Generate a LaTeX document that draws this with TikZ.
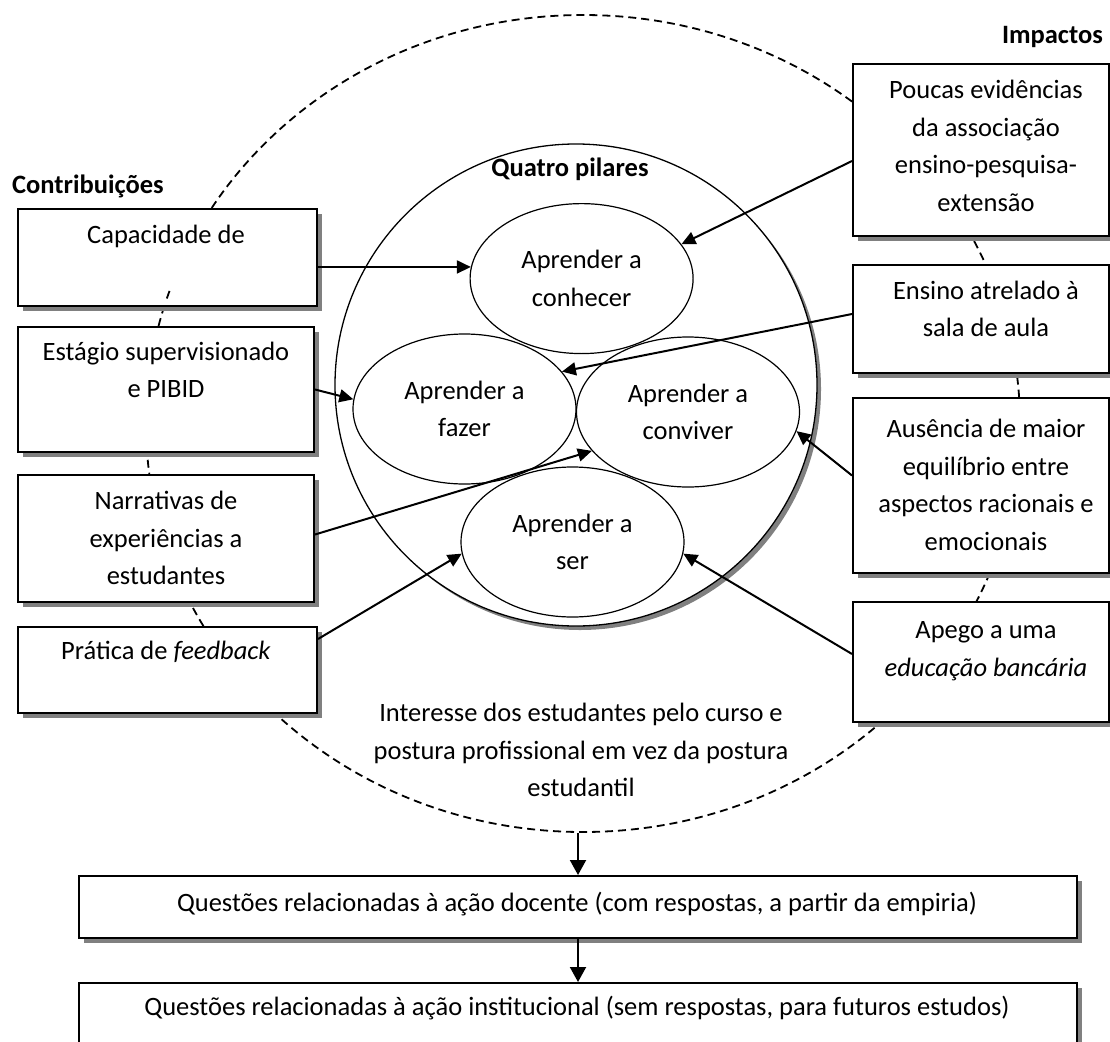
\documentclass[tikz,border=0pt]{standalone}
\usepackage{fontspec}
\setmainfont{Carlito}
\usetikzlibrary{arrows.meta,shapes.geometric,shadows}

\begin{document}
\begin{tikzpicture}[x=1pt,y=-1pt,
  every node/.style={font=\fontsize{26.5}{37.5}\selectfont, inner sep=0pt},
  hd/.style={font=\fontsize{26.5}{37.5}\selectfont\bfseries},
  shade/.style={drop shadow={shadow xshift=5pt, shadow yshift=-5pt, fill=black!50, opacity=1}},
  box/.style={draw, line width=2pt, fill=white, anchor=north west, shade},
  txt/.style={align=center},
  pillar/.style={ellipse, draw, line width=1.2pt, minimum width=223pt, minimum height=150pt, align=center},
  outerdash/.style={line width=1.8pt, dash pattern=on 8pt off 5pt},
  arr/.style={line width=2pt, -{Triangle[length=14pt,width=13pt]}},
  arrdown/.style={line width=2pt, -{Triangle[length=15pt,width=16pt]}},
]
\useasboundingbox (0,0) rectangle (1110,1041);
\clip (0,0) rectangle (1110,1041);

% dashed outer frame enclosing the whole scheme
\node[ellipse, draw, outerdash, minimum width=874pt, minimum height=817pt] (outer) at (583,423.5) {};

% left column: contributions
\node[hd, anchor=base west] (contrib) at (12,193) {Contribuições};
\node[box, minimum width=299pt, minimum height=97pt]  (capB) at (17,208) {};
\node[box, minimum width=296pt, minimum height=125pt] (estB) at (17,326) {};
\node[box, minimum width=296pt, minimum height=127pt] (narB) at (17,474) {};
\node[box, minimum width=299pt, minimum height=86pt]  (praB) at (17,626) {};
\node[txt] (capT) at (166,236) {Capacidade de};
\node[txt] (estT) at (166,370) {Estágio supervisionado\\e PIBID};
\node[txt] (narT) at (166,538) {Narrativas de\\experiências a\\estudantes};
\node[txt] (praT) at (166,652) {Prática de \emph{feedback}};

% dashed outline seen through the first box
\begin{scope}
  \clip (150,287) rectangle (182,298);
  \draw[outerdash] (583,423.5) ellipse [x radius=437, y radius=408.5];
\end{scope}

% right column: impacts
\node[hd, anchor=base east] (impact) at (1103,44) {Impactos};
\node[box, minimum width=256pt, minimum height=172pt] (pouB) at (852,63) {};
\node[box, minimum width=256pt, minimum height=108pt] (ensB) at (852,264) {};
\node[box, minimum width=256pt, minimum height=175pt] (ausB) at (852,397) {};
\node[box, minimum width=256pt, minimum height=120pt] (apeB) at (852,601) {};
\node[txt] (pouT) at (986,146) {Poucas evidências\\da associação\\ensino-pesquisa-\\extensão};
\node[txt] (ensT) at (986,309) {Ensino atrelado à\\sala de aula};
\node[txt] (ausT) at (986,485) {Ausência de maior\\equilíbrio entre\\aspectos racionais e\\emocionais};
\node[txt] (apeT) at (986,651) {Apego a uma\\\emph{educação bancária}};

% central circle with the four pillars
\node[circle, draw, line width=1.3pt, fill=white, minimum size=482pt,
      drop shadow={shadow xshift=4pt, shadow yshift=-4pt, fill=black!50, opacity=1}] (pil) at (576,385) {};
\node[hd, anchor=base] (pilT) at (570,176) {Quatro pilares};
\node[pillar] (conhecer) at (581.6,278.6) {Aprender a\\conhecer};
\node[pillar] (fazer)    at (464.5,409)   {Aprender a\\fazer};
\node[pillar] (conviver) at (688,412)     {Aprender a\\conviver};
\node[pillar] (ser)      at (572.5,542)   {Aprender a\\ser};

% text inside the dashed frame
\node[txt] (interesse) at (581,750) {Interesse dos estudantes pelo curso e\\postura profissional em vez da postura\\estudantil};

% bottom boxes
\node[box, minimum width=998pt, minimum height=62pt] (docB) at (78,875) {};
\node (docT) at (577,904) {Questões relacionadas à ação docente (com respostas, a partir da empiria)};
\node[box, minimum width=998pt, minimum height=90pt] (insB) at (78,982) {};
\node (insT) at (577,1008) {Questões relacionadas à ação institucional (sem respostas, para futuros estudos)};

% connectors from contributions
\draw[arr] (capB.east |- conhecer.174) -- (conhecer.174);
\draw[arr] (estB.east) -- (fazer.175);
\draw[arr] ([yshift=4pt]narB.east) -- (conviver.202);
\draw[arr] ([yshift=31pt]praB.east) -- (ser.186);

% connectors from impacts
\draw[arr] ([yshift=-11pt]pouB.west) -- (conhecer.19);
\draw[arr] ([yshift=5pt]ensB.west) -- (fazer.21);
\draw[arr] ([yshift=10pt]ausB.west) -- (conviver.350);
\draw[arr] ([yshift=8pt]apeB.west) -- (ser.354);

% downward flow
\draw[arrdown] (docB.north |- outer.south) -- (docB.north);
\draw[arrdown] (docB.south) -- (insB.north -| docB.south);
\end{tikzpicture}
\end{document}
